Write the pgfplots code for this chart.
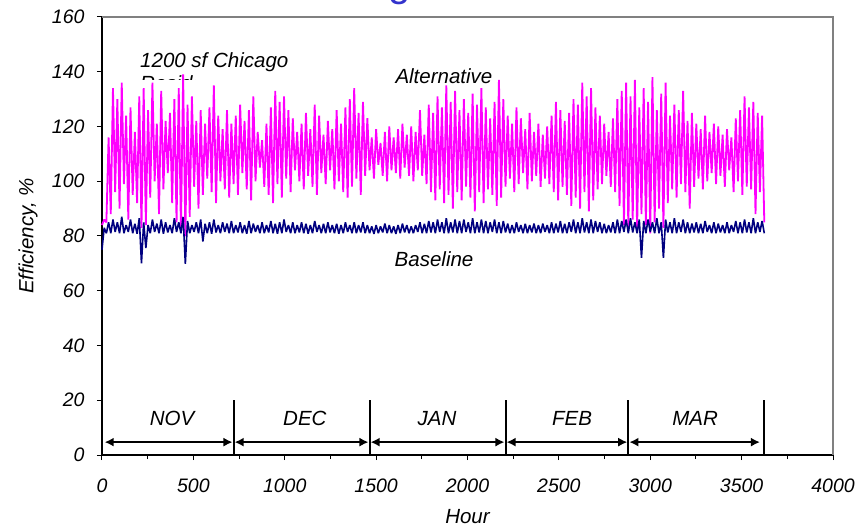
\documentclass[border=0pt]{standalone}
\usepackage{fontspec}
\setmainfont{Liberation Sans}
\usepackage{pgfplots}
\usepackage{pgfplotstable}
\pgfplotsset{compat=1.18}
\usetikzlibrary{arrows.meta}
\definecolor{alt}{HTML}{FF00FF}
\definecolor{base}{HTML}{000080}
\definecolor{titleblue}{HTML}{3333CC}
\newcommand{\tickfont}{\fontsize{19.5}{23}\selectfont\itshape}
\newcommand{\labfont}{\fontsize{20.5}{24}\selectfont\itshape}
\pgfplotstableread{
h a b
0 84 75
12 86 83
24 85 81
36 116 85
48 88 81
60 134 86
72 96 81.5
84 130 85
96 90 81
108 136 87
120 99 81
132 124 84
144 86 81.5
156 127 86
168 95 81
180 118 84.5
192 92 80.8
204 131 86.5
216 83 70
228 134 85
240 84 75.6
252 126 84
264 94 81
276 136 86
288 100 81.5
300 121 84.5
312 88 81
324 133 86
336 97 80.8
348 122 85
360 103 81.3
372 125 84
384 92 81
396 130 86.5
408 85 81.5
420 134 85
432 82 81
444 139 87
456 80 69.8
468 128 85.5
480 87 81
492 131 84
504 98 81.5
516 122 85
528 90 81
540 126 86
552 95 78
564 121 84.5
576 101 81
588 127 85
600 96 80.8
612 135 86
624 92 81.3
636 124 84
648 100 81
660 119 85
672 97 81.5
684 126 84.5
696 94 81
708 121 85.5
720 99 81
732 124 84
744 95 81.3
756 128 85
768 103 81
780 122 84
792 97 80.8
804 126 85.5
816 93 81
828 131 84.5
840 100 81.5
852 118 84
864 105 81
876 115 85
888 98 81
900 121 84
912 95 81.3
924 127 85.5
936 92 81
948 133 84.5
960 99 80.8
972 129 85
984 94 81
996 131 86
1008 101 81.5
1020 126 84
1032 96 81
1044 123 85
1056 104 81
1068 118 84
1080 100 81.3
1092 121 85
1104 97 81
1116 125 84.5
1128 102 80.8
1140 119 84
1152 98 81
1164 128 85.5
1176 95 81.5
1188 124 84
1200 103 81
1212 117 84.5
1224 99 81
1236 122 85
1248 104 81.3
1260 119 84
1272 97 81
1284 126 84.5
1296 100 80.8
1308 121 84
1320 96 81
1332 127 85
1344 94 81.5
1356 130 84
1368 98 81
1380 134 85
1392 101 81
1404 125 84
1416 95 81.3
1428 129 85
1440 102 81
1452 123 84
1464 104 81
1476 116 83.5
1488 101 80.8
1500 119 84
1512 106 81
1524 114 83.5
1536 102 81.3
1548 118 84.5
1560 100 81
1572 120 84
1584 104 81
1596 116 83.5
1608 103 80.8
1620 119 84
1632 101 81
1644 121 84.5
1656 105 81.3
1668 117 84
1680 102 81
1692 120 83.5
1704 100 81
1716 118 84
1728 104 81.5
1740 126 85
1752 102 81
1764 117 84.5
1776 99 81
1788 128 85.5
1800 96 81.3
1812 125 85
1824 93 81
1836 131 86
1848 97 81.5
1860 127 85
1872 92 81
1884 135 86.5
1896 95 81
1908 129 85
1920 90 81.3
1932 133 86
1944 96 81
1956 126 85.5
1968 93 81
1980 130 86
1992 98 81.5
2004 125 85
2016 94 81
2028 132 86.5
2040 89 81
2052 128 85
2064 96 81.3
2076 134 86
2088 92 81
2100 127 85.5
2112 97 81
2124 123 85
2136 95 81.5
2148 129 86
2160 91 81
2172 137 85
2184 94 81
2196 130 85.5
2208 98 81.3
2220 124 84.5
2232 101 81
2244 121 84
2256 96 81
2268 127 85
2280 99 81.5
2292 123 84
2304 103 81
2316 119 84.5
2328 97 81
2340 125 84
2352 100 81.3
2364 118 84.5
2376 102 81
2388 121 84
2400 98 81
2412 117 84.5
2424 101 81.5
2436 120 84
2448 99 81
2460 124 85
2472 96 81
2484 129 84.5
2496 93 81.3
2508 126 85.5
2520 98 81
2532 122 84.5
2544 95 81
2556 125 85
2568 91 81.5
2580 130 86
2592 94 81
2604 128 85
2616 90 81
2628 136 86.5
2640 96 81.3
2652 131 85
2664 89 81
2676 134 86
2688 93 81
2700 127 85.5
2712 97 81.5
2724 124 85
2736 99 81
2748 121 84.5
2760 102 81
2772 118 84
2784 98 81.3
2796 123 85
2808 96 81
2820 130 86
2832 91 81
2844 133 85.5
2856 84 81.5
2868 136 86
2880 83 81
2892 131 86.5
2904 86 81.3
2916 137 85
2928 82 81
2940 127 86
2952 88 72
2964 134 85.5
2976 84 81
2988 129 86
3000 81 81.5
3012 138 85
3024 85 81
3036 126 86.5
3048 90 81
3060 132 85
3072 83 72
3084 136 86
3096 92 81.3
3108 124 85
3120 97 81
3132 128 86.5
3144 94 81
3156 126 85
3168 99 81.5
3180 133 86
3192 96 81
3204 122 85
3216 90 81
3228 125 84.5
3240 98 81.3
3252 121 85
3264 101 81
3276 119 84.5
3288 97 81
3300 124 85.5
3312 100 81.5
3324 118 84
3336 103 81
3348 121 85
3360 99 81
3372 120 84.5
3384 102 81.3
3396 117 84
3408 98 81
3420 119 85
3432 104 81
3444 116 84
3456 96 81.5
3468 123 85.5
3480 100 81
3492 126 85
3504 95 81
3516 131 86
3528 98 81.3
3540 127 85
3552 97 81
3564 129 86.5
3576 88 81
3588 125 85
3600 96 81.5
3612 124 85.5
3624 85 81
}\effdata
\begin{document}
\begin{tikzpicture}
\path[use as bounding box] (-102pt,-72pt) rectangle (765pt,455pt);
\node[text=titleblue, font=\fontsize{40}{48}\selectfont, anchor=base] at (298pt,458pt) {g};
\begin{axis}[
  at={(0pt,0pt)}, anchor=south west,
  scale only axis, width=731pt, height=438pt,
  xmin=0, xmax=4000, ymin=0, ymax=160,
  xtick={0,500,...,4000}, minor x tick num=1,
  ytick={0,20,...,160},
  axis x line*=bottom, axis y line*=left,
  axis line style={black, line width=1.4pt},
  tick align=outside, major tick length=5pt, minor tick length=4pt,
  tick style={black, line width=1pt},
  /pgf/number format/assume math mode=true,
  /pgf/number format/1000 sep={},
  tick label style={font=\tickfont},
  xticklabel style={yshift=-15pt},
  yticklabel style={xshift=-9pt},
  xlabel={Hour}, ylabel={Efficiency, \%},
  label style={font=\labfont},
  x label style={at={(rel axis cs:0.5,0)}, anchor=center, yshift=-62pt},
  y label style={at={(rel axis cs:0,0.5)}, anchor=center, yshift=74pt},
  clip=false,
]
\addplot[alt, line width=1.8pt, line join=bevel] table[x=h, y=a] {\effdata};
\addplot[base, line width=1.6pt, line join=bevel] table[x=h, y=b] {\effdata};
\draw[gray, line width=1.4pt] (rel axis cs:0,1) -- (rel axis cs:1,1) -- (rel axis cs:1,0);
\draw[black, line width=2pt] (axis cs:720,0) -- (axis cs:720,20);
\draw[black, line width=2pt] (axis cs:1464,0) -- (axis cs:1464,20);
\draw[black, line width=2pt] (axis cs:2208,0) -- (axis cs:2208,20);
\draw[black, line width=2pt] (axis cs:2880,0) -- (axis cs:2880,20);
\draw[black, line width=2pt] (axis cs:3624,0) -- (axis cs:3624,20);
\draw[{Latex[length=9pt,width=9pt]}-{Latex[length=9pt,width=9pt]}, line width=1.6pt] (axis cs:15,4.7) -- (axis cs:714,4.7);
\draw[{Latex[length=9pt,width=9pt]}-{Latex[length=9pt,width=9pt]}, line width=1.6pt] (axis cs:726,4.7) -- (axis cs:1458,4.7);
\draw[{Latex[length=9pt,width=9pt]}-{Latex[length=9pt,width=9pt]}, line width=1.6pt] (axis cs:1470,4.7) -- (axis cs:2202,4.7);
\draw[{Latex[length=9pt,width=9pt]}-{Latex[length=9pt,width=9pt]}, line width=1.6pt] (axis cs:2214,4.7) -- (axis cs:2874,4.7);
\draw[{Latex[length=9pt,width=9pt]}-{Latex[length=9pt,width=9pt]}, line width=1.6pt] (axis cs:2886,4.7) -- (axis cs:3600,4.7);
\node[font=\labfont] at (axis cs:383,13.3) {NOV};
\node[font=\labfont] at (axis cs:1110,13.3) {DEC};
\node[font=\labfont] at (axis cs:1833,13.3) {JAN};
\node[font=\labfont] at (axis cs:2572,13.3) {FEB};
\node[font=\labfont] at (axis cs:3245,13.3) {MAR};
\node[font=\labfont] at (axis cs:1871,138.4) {Alternative};
\node[font=\labfont] at (axis cs:1817,71.6) {Baseline};
\node[font=\labfont, anchor=base west, inner sep=0pt] at (axis cs:208,141.4) {1200 sf Chicago};
\begin{scope}
\clip (axis cs:150,137.2) rectangle (axis cs:510,140);
\node[font=\labfont, anchor=base west, inner sep=0pt] at (axis cs:208,133.0) {Residential};
\end{scope}
\end{axis}
\end{tikzpicture}
\end{document}
